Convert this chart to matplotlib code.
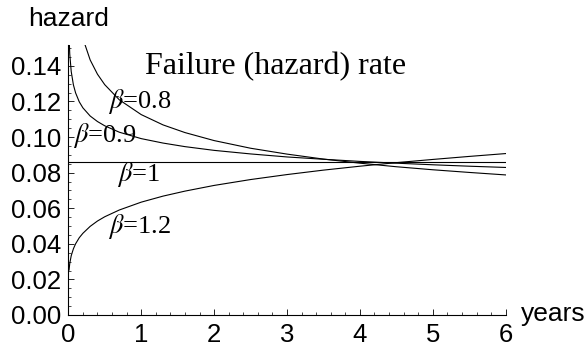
'''
Weibull failure (hazard) rate for several shape parameters
'''
import matplotlib
matplotlib.use('Agg')
import matplotlib.pyplot as plt
from matplotlib.ticker import MultipleLocator, FormatStrFormatter

plt.rcParams['font.family'] = 'Liberation Sans'
plt.rcParams['mathtext.fontset'] = 'stix'

# values
years = [0.01, 0.02, 0.04, 0.07, 0.1, 0.15, 0.2, 0.3, 0.4, 0.5, 0.7, 1.0,
         1.3, 1.6, 2.0, 2.5, 3.0, 3.5, 4.0, 4.5, 5.0, 5.5, 6.0]
h_b08 = [0.2829, 0.2462, 0.2144, 0.1917, 0.1784, 0.1646, 0.1554, 0.1433,
         0.1353, 0.1294, 0.1209, 0.1126, 0.1068, 0.1025, 0.0980, 0.0937,
         0.0904, 0.0876, 0.0853, 0.0833, 0.0816, 0.0801, 0.0787]
h_b09 = [0.1571, 0.1466, 0.1368, 0.1293, 0.1248, 0.1198, 0.1164, 0.1118,
         0.1087, 0.1063, 0.1027, 0.0991, 0.0966, 0.0946, 0.0925, 0.0905,
         0.0888, 0.0875, 0.0863, 0.0853, 0.0844, 0.0836, 0.0829]
h_b10 = [0.0862] * len(years)
h_b12 = [0.0252, 0.0290, 0.0333, 0.0372, 0.0400, 0.0434, 0.0459, 0.0498,
         0.0528, 0.0552, 0.0590, 0.0634, 0.0668, 0.0696, 0.0728, 0.0761,
         0.0789, 0.0814, 0.0836, 0.0856, 0.0874, 0.0891, 0.0907]

labels = ['0.8', '0.9', '1', '1.2']
label_pos = [(0.98, 0.1197), (0.50, 0.1006), (0.96, 0.0787), (0.97, 0.0500)]

fig = plt.figure(figsize=(5.87, 3.47), dpi=100)
ax = fig.add_axes([68.3/587, 32/347, (505.7-68.3)/587, 270/347])

for h in [h_b08, h_b09, h_b10, h_b12]:
    ax.plot(years, h, color='black', lw=0.8)

ax.set_xlim(0, 6)
ax.set_ylim(0, 0.1517)

ax.spines['top'].set_visible(False)
ax.spines['right'].set_visible(False)
ax.spines['left'].set_linewidth(0.8)
ax.spines['bottom'].set_linewidth(0.8)

ax.xaxis.set_major_locator(MultipleLocator(1))
ax.xaxis.set_minor_locator(MultipleLocator(0.2))
ax.yaxis.set_major_locator(MultipleLocator(0.02))
ax.yaxis.set_minor_locator(MultipleLocator(0.005))
ax.yaxis.set_major_formatter(FormatStrFormatter('%.2f'))
ax.tick_params(which='major', direction='in', length=4.5, width=0.6, labelsize=18.5)
ax.tick_params(which='minor', direction='in', length=2.5, width=0.5)
ax.tick_params(axis='x', which='major', pad=6)
ax.tick_params(axis='y', which='major', pad=5)

ax.text(1.05, 0.1354, 'Failure (hazard) rate', family='Liberation Serif',
        fontsize=23, ha='left', va='baseline')
for lab, (xt, yt) in zip(labels, label_pos):
    ax.text(xt, yt, r'$\beta$=' + lab, family='Liberation Serif',
            fontsize=19, ha='center', va='center')

fig.text(68.3/587, 1 - 19/347, 'hazard', fontsize=19, ha='center', va='center')
fig.text(521/587, 1 - 321/347, 'years', fontsize=19, ha='left', va='baseline')

fig.savefig('out.png', dpi=100)
